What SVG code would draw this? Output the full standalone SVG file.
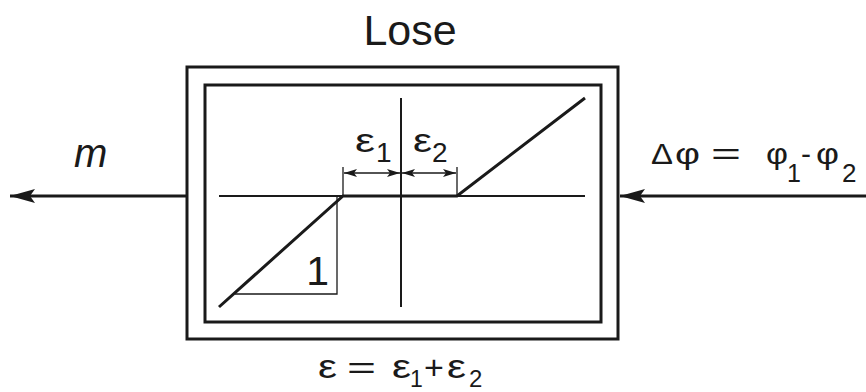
<svg xmlns="http://www.w3.org/2000/svg" width="866" height="392" viewBox="0 0 866 392">
<style>
text{font-family:"Liberation Sans",Arial,sans-serif;fill:#1a1a1a}
.thick{stroke:#1a1a1a;stroke-width:3;fill:none}
.thin{stroke:#1a1a1a;stroke-width:2;fill:none}
.hair{stroke:#1a1a1a;stroke-width:1.3;fill:none}
</style>
<defs>
<marker id="ah" viewBox="0 0 13 8" refX="13" refY="4" markerWidth="13" markerHeight="8" markerUnits="userSpaceOnUse" orient="auto-start-reverse"><path d="M0,0 L13,4 L0,8 L3,4 Z" fill="#1a1a1a"/></marker>
<marker id="big" viewBox="0 0 25 14" refX="25" refY="7" markerWidth="25" markerHeight="14" markerUnits="userSpaceOnUse" orient="auto"><path d="M0,0 L25,7 L0,14 L5,7 Z" fill="#1a1a1a"/></marker>
</defs>
<text x="410" y="45" font-size="43" text-anchor="middle">Lose</text>
<g id="block">
<rect x="187" y="67" width="431" height="272" class="thick"/>
<rect x="205" y="85" width="396" height="237" class="thick"/>
<line x1="219" y1="196" x2="585" y2="196" class="thin"/>
<line x1="401" y1="98" x2="401" y2="307" class="thin"/>
<polyline points="219,307 343,196 457,196 585,98" class="thick"/>
<polyline points="235,294 337,294 337,196" class="hair"/>
<text x="329" y="285" font-size="41" text-anchor="end">1</text>
<line x1="343" y1="167" x2="343" y2="196" class="hair"/>
<line x1="457" y1="167" x2="457" y2="196" class="hair"/>
<line x1="344" y1="173" x2="400" y2="173" class="hair" marker-start="url(#ah)" marker-end="url(#ah)"/>
<line x1="402" y1="173" x2="456" y2="173" class="hair" marker-start="url(#ah)" marker-end="url(#ah)"/>
<text x="355" y="152" font-size="33" textLength="20" lengthAdjust="spacingAndGlyphs">ε</text>
<text x="376" y="162" font-size="28">1</text>
<text x="413" y="152" font-size="33" textLength="19" lengthAdjust="spacingAndGlyphs">ε</text>
<text x="432" y="162" font-size="28">2</text>
</g>
<g id="connectors">
<line x1="187" y1="196" x2="10" y2="196" class="thick" marker-end="url(#big)"/>
<line x1="866" y1="196" x2="620" y2="196" class="thick" marker-end="url(#big)"/>
</g>
<text x="74" y="167" font-size="40" font-style="italic">m</text>
<g id="dphi">
<text x="651" y="164" font-size="30" textLength="22" lengthAdjust="spacingAndGlyphs">Δ</text>
<text x="675" y="164" font-size="30" textLength="25" lengthAdjust="spacingAndGlyphs">φ</text>
<text x="711" y="164" font-size="30" textLength="30" lengthAdjust="spacingAndGlyphs">=</text>
<text x="766" y="164" font-size="30" textLength="22" lengthAdjust="spacingAndGlyphs">φ</text>
<text x="787" y="182" font-size="25">1</text>
<text x="801" y="164" font-size="30">-</text>
<text x="816" y="164" font-size="30" textLength="23" lengthAdjust="spacingAndGlyphs">φ</text>
<text x="842" y="182" font-size="26">2</text>
</g>
<g id="eps">
<text x="318" y="378" font-size="33" textLength="19" lengthAdjust="spacingAndGlyphs">ε</text>
<text x="347" y="378" font-size="30" textLength="29" lengthAdjust="spacingAndGlyphs">=</text>
<text x="392" y="378" font-size="33" textLength="19" lengthAdjust="spacingAndGlyphs">ε</text>
<text x="410" y="387" font-size="23">1</text>
<text x="424" y="379" font-size="34">+</text>
<text x="447" y="378" font-size="33" textLength="19" lengthAdjust="spacingAndGlyphs">ε</text>
<text x="469" y="387" font-size="24">2</text>
</g>
</svg>
